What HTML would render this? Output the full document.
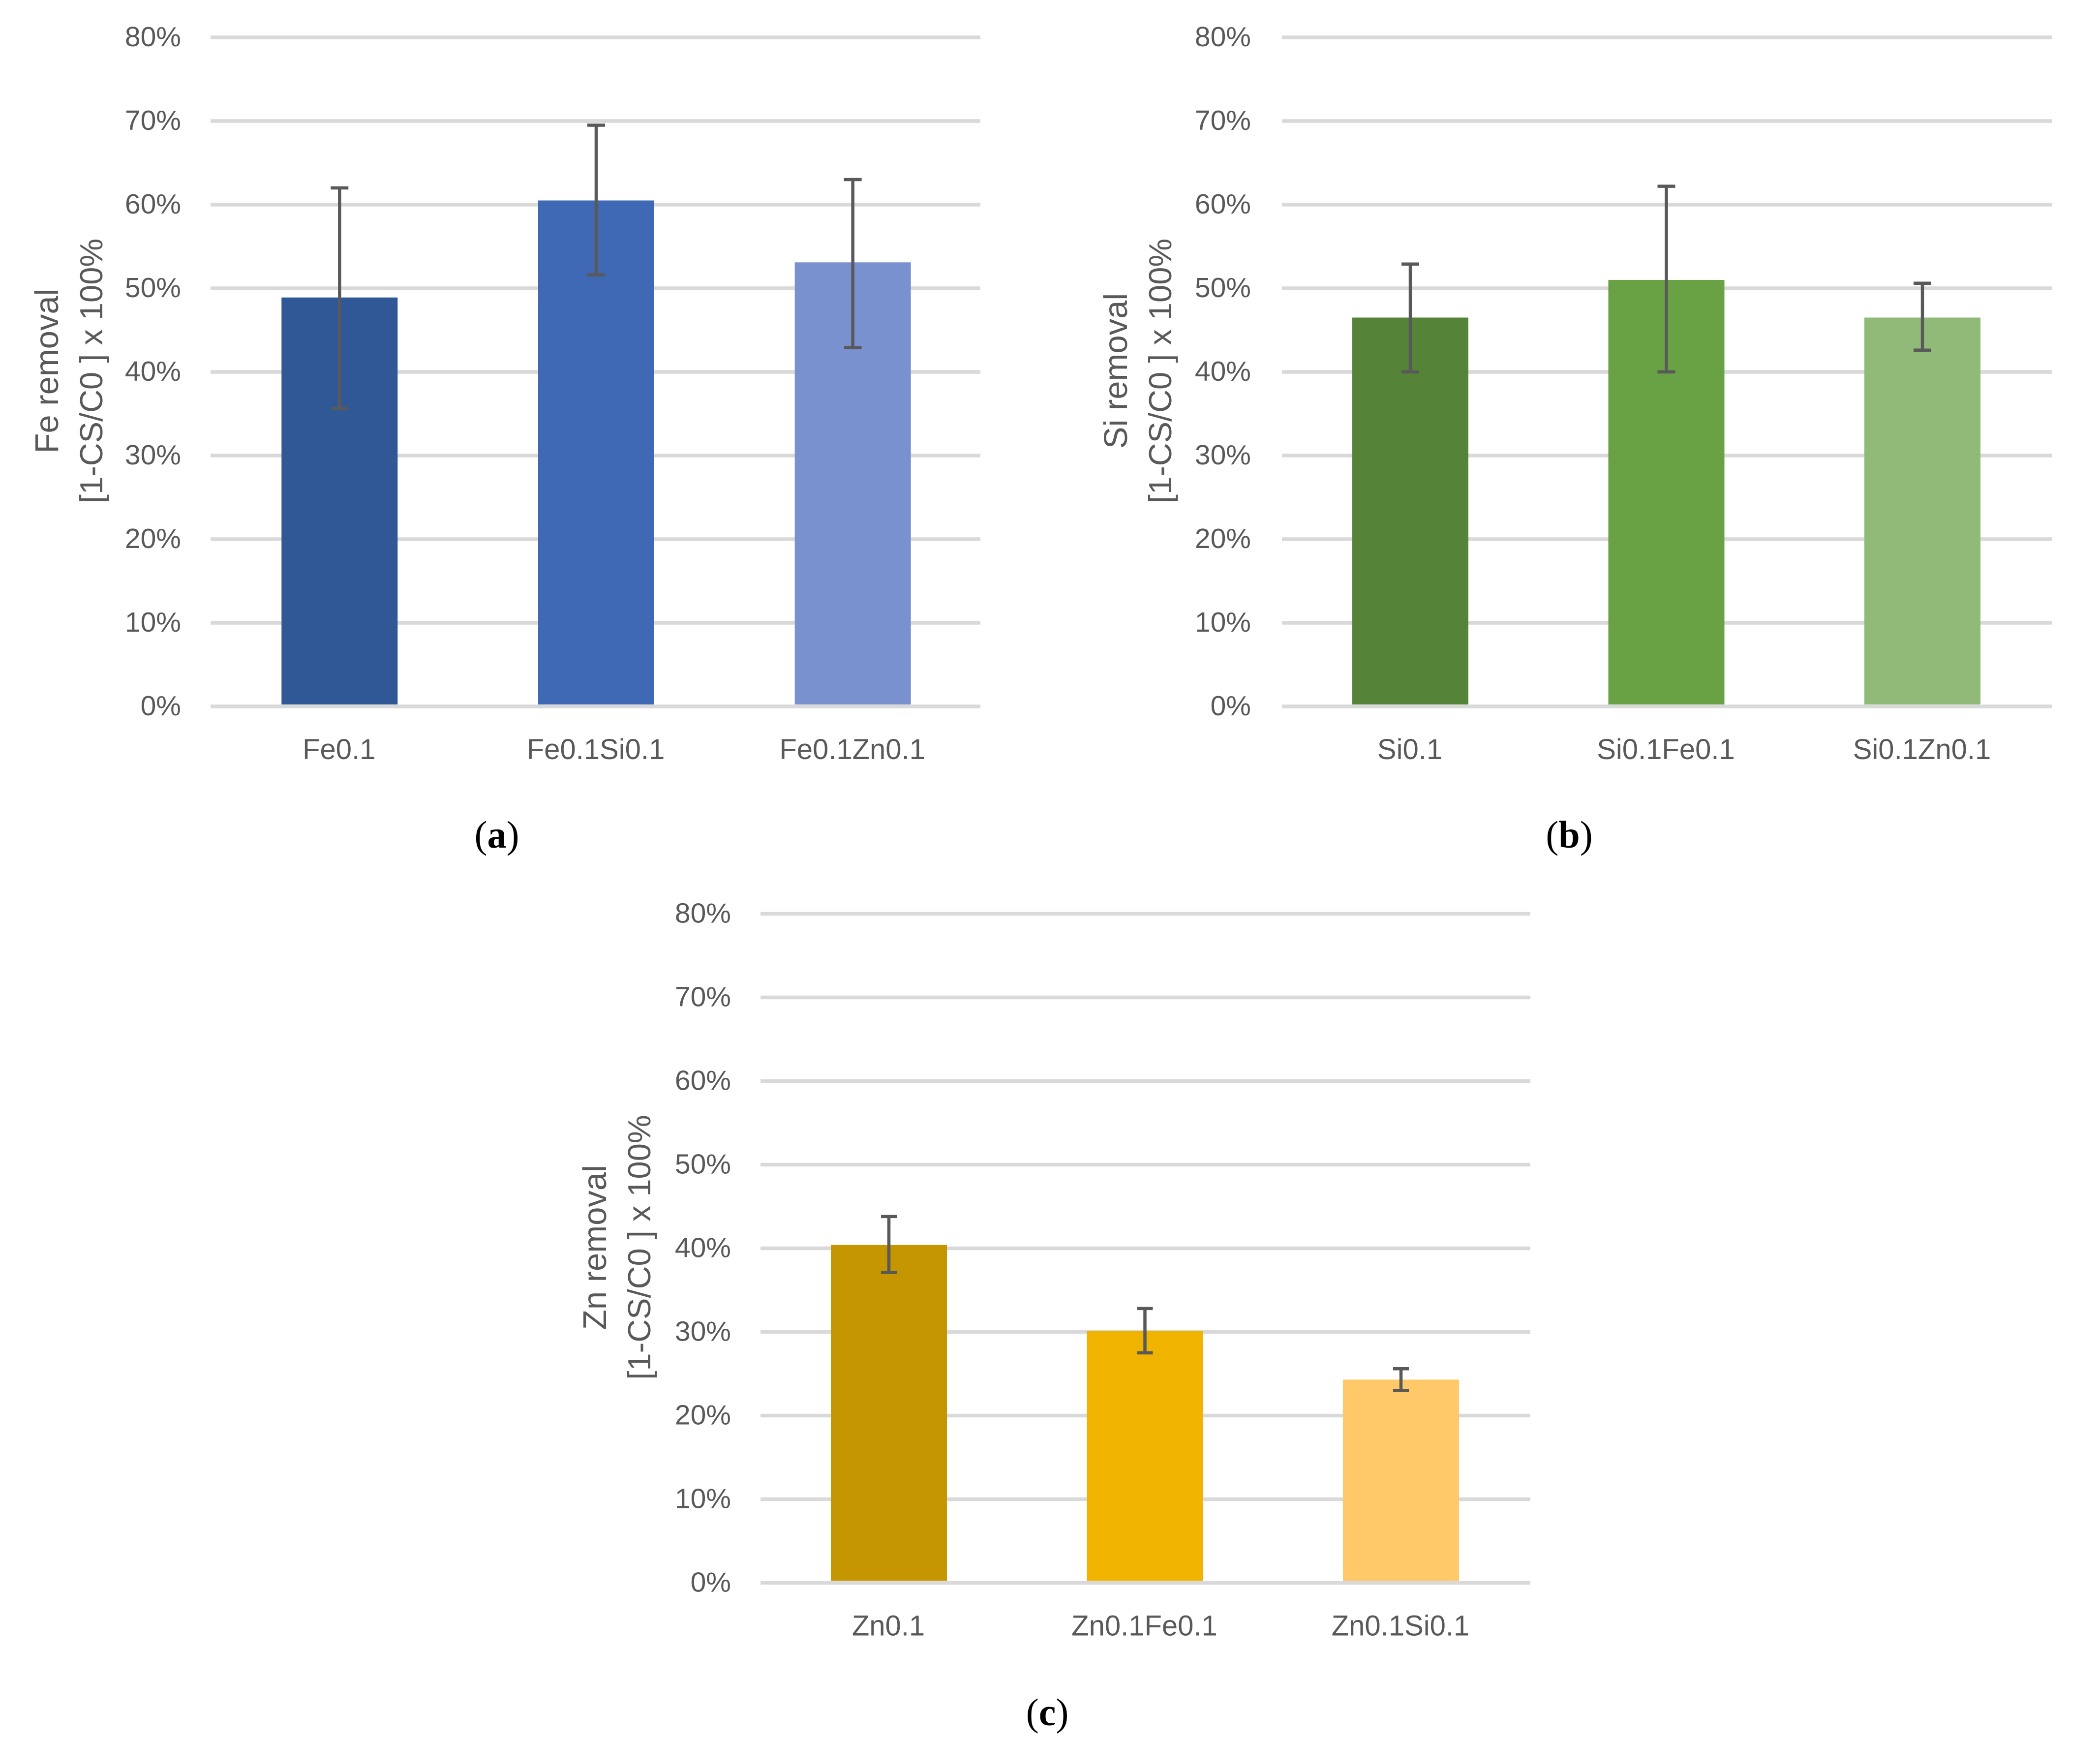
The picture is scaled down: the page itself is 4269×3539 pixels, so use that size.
<!DOCTYPE html>
<html lang="en">
<head>
<meta charset="utf-8">
<title>Fe, Si and Zn removal charts</title>
<style>
  html, body { margin: 0; padding: 0; background: #ffffff; }
  #figure { display: block; position: absolute; left: 0; top: 0; }
  .tick, .cat, .title, .title-large { font-family: "Liberation Sans", sans-serif; fill: #595959; }
  .tick { font-size: 57px; text-anchor: end; }
  .cat { font-size: 58px; text-anchor: middle; }
  .title { font-size: 65px; text-anchor: middle; }
  .title-large { font-size: 67px; text-anchor: middle; }
  .caption { font-family: "Liberation Serif", serif; font-size: 78px; fill: #000000; text-anchor: middle; }
</style>
</head>
<body>
<svg id="figure" xmlns="http://www.w3.org/2000/svg" width="4269" height="3539" viewBox="0 0 4269 3539">
  <rect x="0" y="0" width="4269" height="3539" fill="#ffffff"></rect>
  <text class="caption" x="1010" y="1723">(<tspan font-weight="bold">a</tspan>)</text>
  <text class="caption" x="3190" y="1723">(<tspan font-weight="bold">b</tspan>)</text>
  <text class="caption" x="2129" y="3507">(<tspan font-weight="bold">c</tspan>)</text>
</svg>
<script>
// ---- chart data (percent) ----
const tickValues = [0, 10, 20, 30, 40, 50, 60, 70, 80];
const tickLabels = ['0%', '10%', '20%', '30%', '40%', '50%', '60%', '70%', '80%'];

const feCategories = ['Fe0.1', 'Fe0.1Si0.1', 'Fe0.1Zn0.1'];
const feValues = [48.9, 60.5, 53.1];
const feErrorHigh = [62.0, 69.5, 63.0];
const feErrorLow = [35.6, 51.6, 42.9];

const siCategories = ['Si0.1', 'Si0.1Fe0.1', 'Si0.1Zn0.1'];
const siValues = [46.5, 51.0, 46.5];
const siErrorHigh = [52.9, 62.2, 50.6];
const siErrorLow = [40.0, 40.0, 42.6];

const znCategories = ['Zn0.1', 'Zn0.1Fe0.1', 'Zn0.1Si0.1'];
const znValues = [40.4, 30.1, 24.3];
const znErrorHigh = [43.8, 32.8, 25.6];
const znErrorLow = [37.1, 27.5, 23.0];

// ---- drawing ----
const svgNS = 'http://www.w3.org/2000/svg';
const figure = document.getElementById('figure');

function make(parent, tag, props, content) {
  const el = document.createElementNS(svgNS, tag);
  for (const key in props) el.setAttribute(key, props[key]);
  if (content !== undefined) el.textContent = content;
  parent.appendChild(el);
  return el;
}

function drawPanel(panel) {
  const plotLeft = panel.left;
  const plotWidth = 1565;
  const plotRight = plotLeft + plotWidth;
  const zeroY = panel.zeroY;
  const band = panel.band;
  const barWidth = 236;
  const capWidth = panel.capWidth;
  const yScale = function (v) { return zeroY - v * 17; };
  const xScale = function (i) { return plotLeft + panel.firstCenter + i * band; };

  const group = make(figure, 'g', {});
  
  

  // gridlines + y tick labels
  tickValues.forEach(function (t, i) {
    const y = yScale(t);
    const line = make(group, 'line', { x1: plotLeft, x2: plotRight, y1: y, y2: y, stroke: '#d9d9d9', 'stroke-width': 7.5 });
    
    
    const label = make(group, 'text', { class: 'tick', x: plotLeft - 60 + panel.tickNudge, y: y + 18 }, tickLabels[i]);
    
    
  });

  // bars
  panel.values.forEach(function (v, i) {
    const cx = xScale(i);
    const top = yScale(v);
    const bar = make(group, 'rect', { x: cx - barWidth / 2, y: top, width: barWidth, height: zeroY - 4 - top, fill: panel.colors[i] });
    
    
  });

  // error bars
  panel.values.forEach(function (v, i) {
    const cx = xScale(i);
    const hi = yScale(panel.errorHigh[i]);
    const lo = yScale(panel.errorLow[i]);
    const err = make(group, 'path', {
      d: 'M' + (cx - capWidth / 2) + ' ' + hi + 'H' + (cx + capWidth / 2) +
         'M' + cx + ' ' + hi + 'V' + lo +
         'M' + (cx - capWidth / 2) + ' ' + lo + 'H' + (cx + capWidth / 2),
      stroke: '#595959', 'stroke-width': 6.5, fill: 'none'
    });
    
    
  });

  // category labels
  panel.categories.forEach(function (c, i) {
    const label = make(group, 'text', { class: 'cat', x: xScale(i) - 1, y: zeroY + 107 }, c);
    
    
  });

  // y axis title (two rotated lines)
  const titleX1 = plotLeft - 308 + panel.titleNudge;
  const titleX2 = plotLeft - 218 + panel.titleNudge;
  const titleY = zeroY - 682;
  const t1 = make(group, 'text', { class: 'title-large', x: titleX1, y: titleY, transform: 'rotate(-90 ' + titleX1 + ' ' + titleY + ')' }, panel.titleLine);
  
  
  const t2 = make(group, 'text', { class: 'title', x: titleX2, y: titleY, transform: 'rotate(-90 ' + titleX2 + ' ' + titleY + ')' }, '[1-CS/C0 ] x 100%');
  
  
}

drawPanel({
  key: 'fe', left: 428, zeroY: 1436, capWidth: 36, titleLine: 'Fe removal',
  firstCenter: 262.3, band: 521.67, tickNudge: 0, titleNudge: -2,
  categories: feCategories, values: feValues, errorHigh: feErrorHigh, errorLow: feErrorLow,
  colors: ['#305897', '#3f69b5', '#7a91cf']
});
drawPanel({
  key: 'si', left: 2606, zeroY: 1436, capWidth: 36, titleLine: 'Si removal',
  firstCenter: 261, band: 520.5, tickNudge: -3, titleNudge: -7,
  categories: siCategories, values: siValues, errorHigh: siErrorHigh, errorLow: siErrorLow,
  colors: ['#558338', '#69a244', '#91ba79']
});
drawPanel({
  key: 'zn', left: 1546, zeroY: 3217.5, capWidth: 32, titleLine: 'Zn removal',
  firstCenter: 261, band: 520.5, tickNudge: 0, titleNudge: -6,
  categories: znCategories, values: znValues, errorHigh: znErrorHigh, errorLow: znErrorLow,
  colors: ['#c69600', '#f0b400', '#ffc869']
});
</script>
</body>
</html>
